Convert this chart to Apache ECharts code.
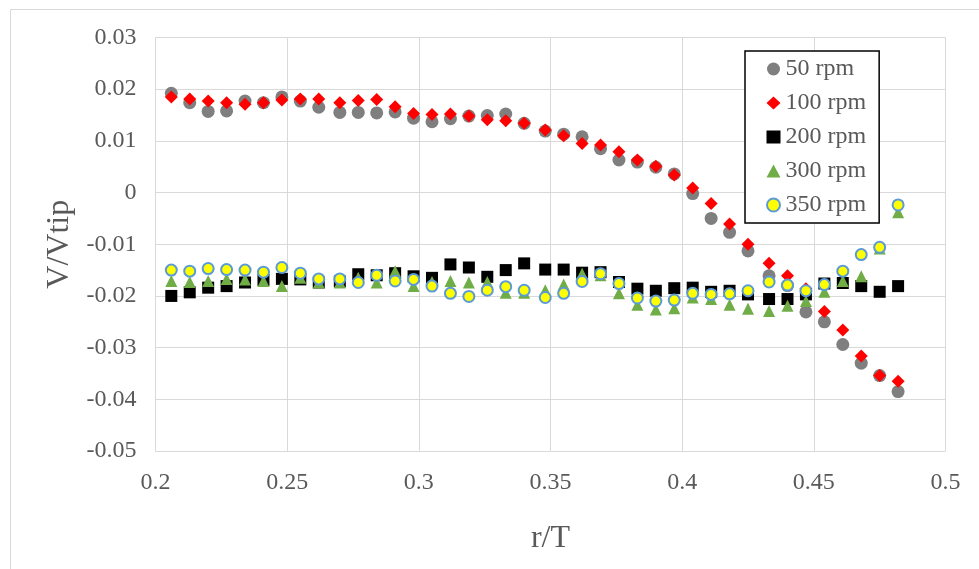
<!DOCTYPE html>
<html>
<head>
<meta charset="utf-8">
<script src="https://cdn.jsdelivr.net/npm/echarts@6/dist/echarts.min.js"></script>
<style>
  html, body { margin: 0; padding: 0; background: #fff; }
  #chart { width: 979px; height: 569px; }
</style>
</head>
<body>
<div id="chart"></div>
<script>
// Radial position r/T of each measurement point
const rT = [0.206, 0.213, 0.220, 0.227, 0.234, 0.241, 0.248, 0.255, 0.262, 0.270,
            0.277, 0.284, 0.291, 0.298, 0.305, 0.312, 0.319, 0.326, 0.333, 0.340,
            0.348, 0.355, 0.362, 0.369, 0.376, 0.383, 0.390, 0.397, 0.404, 0.411,
            0.418, 0.425, 0.433, 0.440, 0.447, 0.454, 0.461, 0.468, 0.475, 0.482];

// Normalised velocity V/Vtip for each impeller speed
const v50 = [0.0192, 0.0174, 0.0157, 0.0158, 0.0177, 0.0174, 0.0185, 0.0177, 0.0165, 0.0155,
             0.0155, 0.0154, 0.0156, 0.0144, 0.0137, 0.0143, 0.0148, 0.0149, 0.0152, 0.0134,
             0.0119, 0.0113, 0.0108, 0.0085, 0.0063, 0.0059, 0.0049, 0.0036, -0.0002, -0.0050,
             -0.0077, -0.0113, -0.0161, -0.0180, -0.0231, -0.0250, -0.0294, -0.0330, -0.0354, -0.0385];
const v100 = [0.0185, 0.0181, 0.0177, 0.0174, 0.0171, 0.0174, 0.0179, 0.0181, 0.0181, 0.0174,
              0.0178, 0.0180, 0.0166, 0.0153, 0.0151, 0.0152, 0.0148, 0.0141, 0.0139, 0.0134,
              0.0121, 0.0110, 0.0095, 0.0092, 0.0079, 0.0063, 0.0051, 0.0034, 0.0009, -0.0021,
              -0.0061, -0.0100, -0.0137, -0.0161, -0.0186, -0.0230, -0.0266, -0.0316, -0.0354, -0.0365];
const v200 = [-0.0200, -0.0193, -0.0184, -0.0181, -0.0174, -0.0169, -0.0167, -0.0168, -0.0174, -0.0172,
              -0.0158, -0.0160, -0.0156, -0.0162, -0.0165, -0.0139, -0.0145, -0.0163, -0.0150, -0.0137,
              -0.0149, -0.0149, -0.0155, -0.0154, -0.0173, -0.0186, -0.0190, -0.0185, -0.0184, -0.0192,
              -0.0190, -0.0197, -0.0206, -0.0206, -0.0197, -0.0176, -0.0175, -0.0181, -0.0192, -0.0181];
const v300 = [-0.0171, -0.0173, -0.0171, -0.0167, -0.0168, -0.0171, -0.0181, -0.0165, -0.0174, -0.0174,
              -0.0165, -0.0174, -0.0152, -0.0181, -0.0173, -0.0171, -0.0174, -0.0173, -0.0194, -0.0194,
              -0.0189, -0.0178, -0.0157, -0.0160, -0.0195, -0.0217, -0.0226, -0.0224, -0.0203, -0.0206,
              -0.0217, -0.0225, -0.0229, -0.0219, -0.0210, -0.0192, -0.0171, -0.0162, -0.0108, -0.0038];
const v350 = [-0.0150, -0.0152, -0.0147, -0.0149, -0.0150, -0.0154, -0.0145, -0.0156, -0.0167, -0.0167,
              -0.0174, -0.0160, -0.0171, -0.0168, -0.0181, -0.0195, -0.0201, -0.0189, -0.0182, -0.0189,
              -0.0203, -0.0195, -0.0172, -0.0157, -0.0176, -0.0204, -0.0210, -0.0208, -0.0195, -0.0197,
              -0.0196, -0.0190, -0.0173, -0.0179, -0.0190, -0.0178, -0.0152, -0.0120, -0.0106, -0.0024];

const seriesNames = ['50 rpm', '100 rpm', '200 rpm', '300 rpm', '350 rpm'];

const FONT = '"Liberation Serif", "Times New Roman", serif';
const TEXT = '#595959';
const GRID = '#d9d9d9';

const pairs = vals => rT.map((x, i) => [x, vals[i]]);

const chart = echarts.init(document.getElementById('chart'), null, { renderer: 'canvas' });

chart.setOption({
  animation: false,
  backgroundColor: '#fff',
  graphic: [{
    type: 'rect',
    left: 8, top: 7,
    shape: { width: 990, height: 590 },
    style: { fill: 'none', stroke: GRID, lineWidth: 1 },
    silent: true, z: -1
  }],
  grid: { left: 155.5, right: 33.5, top: 37.5, bottom: 118 },
  xAxis: {
    type: 'value', min: 0.2, max: 0.5, interval: 0.05,
    name: 'r/T', nameLocation: 'middle', nameGap: 72,
    nameTextStyle: { fontFamily: FONT, fontSize: 32, color: TEXT },
    axisLine: { show: true, lineStyle: { color: GRID, width: 1 } },
    axisTick: { show: false },
    axisLabel: { fontFamily: FONT, fontSize: 24, color: TEXT, margin: 20 },
    splitLine: { show: true, lineStyle: { color: GRID, width: 1 } }
  },
  yAxis: {
    type: 'value', min: -0.05, max: 0.03, interval: 0.01,
    name: 'V/Vtip', nameLocation: 'middle', nameGap: 80,
    nameTextStyle: { fontFamily: FONT, fontSize: 32, color: TEXT },
    axisLine: { show: true, lineStyle: { color: GRID, width: 1 } },
    axisTick: { show: false },
    axisLabel: { fontFamily: FONT, fontSize: 24, color: TEXT, margin: 19 },
    splitLine: { show: true, lineStyle: { color: GRID, width: 1 } }
  },
  legend: {
    orient: 'vertical',
    left: 745, top: 51,
    padding: [6, 13, 6, 21],
    itemGap: 10,
    itemWidth: 14, itemHeight: 13,
    itemTextGap: 5,
    borderColor: '#000', borderWidth: 1.5,
    backgroundColor: '#fff',
    textStyle: { fontFamily: FONT, fontSize: 24, color: TEXT, lineHeight: 24 },
    data: seriesNames
  },
  series: [
    { name: seriesNames[0], type: 'scatter', symbol: 'circle', symbolSize: 13,
      itemStyle: { color: '#7f7f7f', opacity: 1 }, data: pairs(v50) },
    { name: seriesNames[1], type: 'scatter', symbol: 'diamond', symbolSize: 13,
      itemStyle: { color: '#ff0000', opacity: 1 }, data: pairs(v100) },
    { name: seriesNames[2], type: 'scatter', symbol: 'rect', symbolSize: 12,
      itemStyle: { color: '#000000', opacity: 1 }, data: pairs(v200) },
    { name: seriesNames[3], type: 'scatter', symbol: 'triangle', symbolSize: 12,
      itemStyle: { color: '#70ad47', opacity: 1 }, data: pairs(v300) },
    { name: seriesNames[4], type: 'scatter', symbol: 'circle', symbolSize: 11,
      itemStyle: { color: '#ffff00', borderColor: '#5b9bd5', borderWidth: 2, opacity: 1 },
      data: pairs(v350) }
  ]
});
</script>
</body>
</html>
